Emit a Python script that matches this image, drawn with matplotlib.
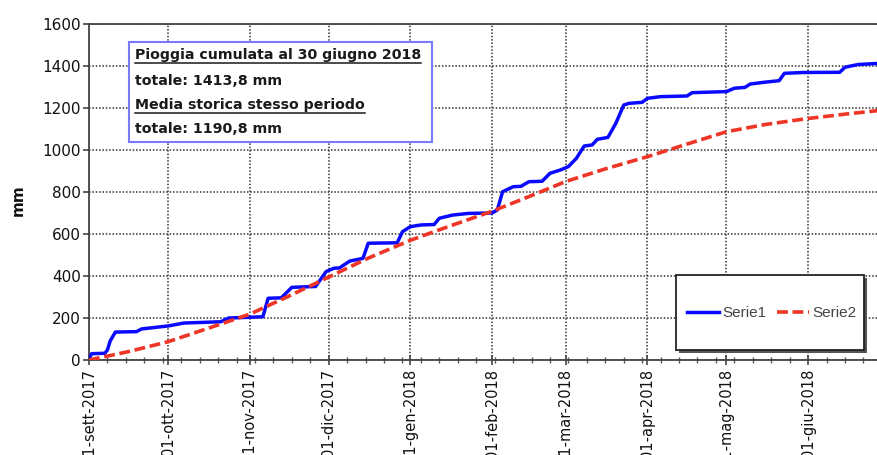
import pandas as pd
import matplotlib
matplotlib.use('Agg')
import matplotlib.pyplot as plt
from matplotlib.patches import Rectangle
from matplotlib.lines import Line2D

# Serie1: pioggia cumulata 2017-2018 (mm)
serie1_date = ['2017-09-01', '2017-09-02', '2017-09-07', '2017-09-08', '2017-09-09',
               '2017-09-11', '2017-09-19', '2017-09-21', '2017-10-01', '2017-10-07',
               '2017-10-21', '2017-10-24', '2017-10-31', '2017-11-06', '2017-11-08',
               '2017-11-13', '2017-11-17', '2017-11-26', '2017-11-30', '2017-12-03',
               '2017-12-05', '2017-12-09', '2017-12-14', '2017-12-16', '2017-12-27',
               '2017-12-29', '2018-01-01', '2018-01-05', '2018-01-10', '2018-01-12',
               '2018-01-17', '2018-01-23', '2018-02-01', '2018-02-03', '2018-02-05',
               '2018-02-09', '2018-02-12', '2018-02-15', '2018-02-20', '2018-02-23',
               '2018-02-27', '2018-03-02', '2018-03-05', '2018-03-08', '2018-03-11',
               '2018-03-13', '2018-03-17', '2018-03-20', '2018-03-23', '2018-03-25',
               '2018-03-30', '2018-04-01', '2018-04-06', '2018-04-16', '2018-04-18',
               '2018-05-01', '2018-05-04', '2018-05-08', '2018-05-10', '2018-05-15',
               '2018-05-21', '2018-05-23', '2018-05-30', '2018-06-13', '2018-06-15',
               '2018-06-20', '2018-06-30']
serie1_mm = [5, 30, 32, 48, 90,
             133, 135, 148, 162, 176,
             182, 200, 203, 206, 294,
             296, 346, 350, 421, 437,
             438, 471, 484, 556, 558,
             611, 635, 643, 645, 675,
             690, 698, 700, 714, 801,
             825, 827, 849, 851, 889,
             905, 921, 960, 1019, 1024,
             1051, 1060, 1127, 1214, 1222,
             1227, 1246, 1254, 1257, 1273,
             1278, 1294, 1298, 1314, 1322,
             1330, 1365, 1369, 1370, 1394,
             1407, 1413.8]

# Serie2: media storica stesso periodo (mm)
serie2_date = ['2017-09-01', '2017-09-16', '2017-10-01', '2017-10-16', '2017-11-01',
               '2017-11-16', '2017-12-01', '2017-12-16', '2018-01-01', '2018-01-16',
               '2018-02-01', '2018-02-15', '2018-03-01', '2018-03-16', '2018-04-01',
               '2018-04-16', '2018-05-01', '2018-05-16', '2018-06-01', '2018-06-16',
               '2018-06-30']
serie2_mm = [0, 40, 87, 150, 218,
             305, 395, 485, 570, 638,
             708, 778, 850, 910, 968,
             1028, 1087, 1122, 1150, 1172,
             1190.8]

mesi = ['2017-09-01', '2017-10-01', '2017-11-01', '2017-12-01', '2018-01-01',
        '2018-02-01', '2018-03-01', '2018-04-01', '2018-05-01', '2018-06-01']
etichette_mesi = ['01-sett-2017', '01-ott-2017', '01-nov-2017', '01-dic-2017',
                  '01-gen-2018', '01-feb-2018', '01-mar-2018', '01-apr-2018',
                  '01-mag-2018', '01-giu-2018']
y_ticks = [0, 200, 400, 600, 800, 1000, 1200, 1400, 1600]

riquadro = ['Pioggia cumulata al 30 giugno 2018', 'totale: 1413,8 mm',
            'Media storica stesso periodo', 'totale: 1190,8 mm']

fig = plt.figure(figsize=(8.78, 4.55), dpi=100)
ax = fig.add_axes([0.1014, 0.2088, 0.906, 0.7385])

ax.plot(pd.to_datetime(serie1_date), serie1_mm, color='#0a0aff', lw=2.5,
        solid_joinstyle='round', label='Serie1', zorder=3)
ax.plot(pd.to_datetime(serie2_date), serie2_mm, color='#ee3526', lw=2.6,
        dashes=(3, 1.3), label='Serie2', zorder=3)

ax.set_xlim(pd.Timestamp('2017-09-01'), pd.Timestamp('2018-06-30'))
ax.set_ylim(0, 1600)
ax.set_yticks(y_ticks)
ax.set_yticklabels([str(v) for v in y_ticks], fontsize=11, color='#111')
ax.set_xticks(pd.to_datetime(mesi))
ax.set_xticklabels(etichette_mesi, rotation=90, fontsize=10.5, color='#111', va='top')
ax.set_xticks(pd.date_range('2017-09-01', '2018-06-30', freq='7D'), minor=True)
ax.tick_params(axis='x', which='major', direction='inout', length=7, width=1.2, pad=3, color='#444')
ax.tick_params(axis='x', which='minor', direction='inout', length=4, width=1, color='#555')
ax.tick_params(axis='y', which='major', direction='out', length=4, width=1.2, pad=2, color='#444')

ax.grid(True, which='major', color='#333', linestyle=(0, (1, 1.2)), lw=1.1, zorder=1)
ax.set_axisbelow(True)
for s in ax.spines.values():
    s.set_color('#444')
    s.set_linewidth(1.3)

fig.text(0.021, 0.56, 'mm', rotation=90, fontsize=11, fontweight='bold',
         ha='center', va='center', color='#111')

# riquadro con i totali
ax.add_patch(Rectangle((0.1469, 0.688), 0.345, 0.2198, transform=fig.transFigure,
                       facecolor='white', edgecolor='#7a7aff', lw=1.5, zorder=5))
righe_y = [0.8697, 0.8132, 0.7604, 0.7077]
testi = []
for t, yy in zip(riquadro, righe_y):
    testi.append(fig.text(0.1538, yy, t, fontsize=10.2, fontweight='bold', color='#1a1a1a',
                          va='baseline', zorder=6))

# legenda con ombra
ax.add_patch(Rectangle((0.7379 + 3 / 795.5, 0.0298 - 3 / 336), 0.2363, 0.2232,
                       transform=ax.transAxes, facecolor='#555', edgecolor='none', zorder=6))
ax.add_patch(Rectangle((0.7379, 0.0298), 0.2363, 0.2232, transform=ax.transAxes,
                       facecolor='white', edgecolor='#222', lw=1.3, zorder=7))
leg = ax.legend(loc='center', bbox_to_anchor=(0.858, 0.140), ncol=2, frameon=False,
                handlelength=2.15, handletextpad=0.2, columnspacing=0.65,
                prop={'family': 'Liberation Sans', 'size': 11})
leg.set_zorder(8)
for txt in leg.get_texts():
    txt.set_color('#444')

# sottolineatura righe 1 e 3
fig.canvas.draw()
r = fig.canvas.get_renderer()
W, H = fig.get_size_inches() * fig.dpi
for i in (0, 2):
    bb = testi[i].get_window_extent(r)
    yl = righe_y[i] - 3.5 / H
    fig.add_artist(Line2D([bb.x0 / W, bb.x1 / W], [yl, yl], transform=fig.transFigure,
                          color='#1a1a1a', lw=1.1, zorder=6))

fig.savefig('out.png', dpi=100)
